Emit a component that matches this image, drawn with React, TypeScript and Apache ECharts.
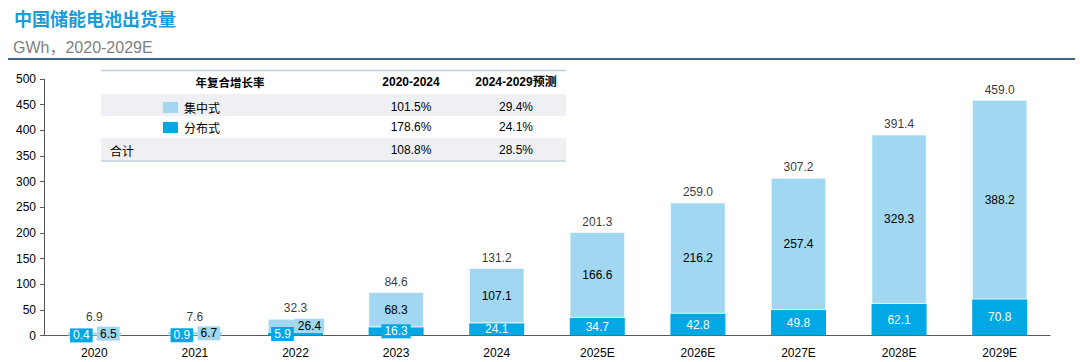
import React, { useEffect, useRef } from "react";
import * as echarts from "echarts";

const categories = ["2020", "2021", "2022", "2023", "2024", "2025E", "2026E", "2027E", "2028E", "2029E"];
const distributed = [0.4, 0.9, 5.9, 16.3, 24.1, 34.7, 42.8, 49.8, 62.1, 70.8];
const centralized = [6.5, 6.7, 26.4, 68.3, 107.1, 166.6, 216.2, 257.4, 329.3, 388.2];
const totals = [6.9, 7.6, 32.3, 84.6, 131.2, 201.3, 259.0, 307.2, 391.4, 459.0];
const yMin = 0;
const yMax = 500;
const yInterval = 50;

const titleText = "中国储能电池出货量";
const subtitleText = "GWh，2020-2029E";
const tableHeaders = ["年复合增长率", "2020-2024", "2024-2029预测"];
const seriesNames = ["集中式", "分布式"];
const cagrCentralized = ["101.5%", "29.4%"];
const cagrDistributed = ["178.6%", "24.1%"];
const totalLabel = "合计";
const cagrTotal = ["108.8%", "28.5%"];

const LIGHT = "#A1D7F1";
const DARK = "#00A8E4";
const FONT = '"Liberation Sans", Arial, "Noto Sans CJK SC", sans-serif';
const CJK = '"Noto Sans CJK SC", "Liberation Sans", sans-serif';

export default function App() {
  const ref = useRef<HTMLDivElement>(null);
  useEffect(() => {
    if (!ref.current) return;
    const chart = echarts.init(ref.current, undefined, { renderer: "svg" });
    const fmt = (p: any) => Number(p.value).toFixed(1);

    const darkData = distributed.map((v, i) => {
      if (i < 3) return { value: v, label: { backgroundColor: DARK, padding: [1, 3], offset: [-13, 0] } };
      if (i === 3) return { value: v, label: { backgroundColor: DARK, padding: [1, 3] } };
      return v;
    });
    const lightData = centralized.map((v, i) => {
      if (i < 3) return { value: v, label: { backgroundColor: LIGHT, padding: [1, 3], offset: [14, 0] } };
      return v;
    });
    const totalData = totals.map((v, i) => (i < 2 ? { value: v, label: { distance: 8 } } : v));

    const col1 = 230, col2 = 411, col3 = 516;
    const tx = (text: string, x: number, y: number, opts: any = {}) => ({
      type: "text",
      x,
      y,
      style: {
        text,
        fill: "#000",
        font: `${opts.bold ? "bold " : ""}${opts.size || 12}px ${opts.family || FONT}`,
        align: opts.align || "center",
        verticalAlign: "middle",
      },
      z: 10,
    });

    const graphic: any[] = [
      {
        type: "text",
        x: 14,
        y: 18,
        style: { text: titleText, fill: "#1B9BD8", font: `bold 18px ${CJK}`, verticalAlign: "middle" },
      },
      {
        type: "text",
        x: 13,
        y: 47,
        style: { text: subtitleText, fill: "#7F7F7F", font: `16px ${FONT}`, verticalAlign: "middle" },
      },
      { type: "line", shape: { x1: 8, y1: 59, x2: 1075, y2: 59 }, style: { stroke: "#41628A", lineWidth: 2 } },
      // table
      { type: "rect", shape: { x: 101, y: 94, width: 465, height: 22 }, style: { fill: "#EEF0F3" }, z: 5 },
      { type: "rect", shape: { x: 101, y: 138, width: 465, height: 22 }, style: { fill: "#EEF0F3" }, z: 5 },
      { type: "line", shape: { x1: 101, y1: 70.5, x2: 566, y2: 70.5 }, style: { stroke: "#C3CEDB", lineWidth: 1.5 }, z: 6 },
      { type: "line", shape: { x1: 101, y1: 161, x2: 566, y2: 161 }, style: { stroke: "#C3CEDB", lineWidth: 1.5 }, z: 6 },
      tx(tableHeaders[0], col1, 82, { bold: true, family: CJK, size: 11.5 }),
      tx(tableHeaders[1], col2, 82, { bold: true }),
      tx(tableHeaders[2], col3, 82, { bold: true }),
      { type: "rect", shape: { x: 163, y: 102, width: 15, height: 11 }, style: { fill: LIGHT }, z: 10 },
      tx(seriesNames[0], 184, 107, { align: "left", family: CJK }),
      tx(cagrCentralized[0], col2, 107),
      tx(cagrCentralized[1], col3, 107),
      { type: "rect", shape: { x: 163, y: 122, width: 15, height: 11 }, style: { fill: DARK }, z: 10 },
      tx(seriesNames[1], 184, 127, { align: "left", family: CJK }),
      tx(cagrDistributed[0], col2, 127),
      tx(cagrDistributed[1], col3, 127),
      tx(totalLabel, 110, 150, { align: "left", family: CJK }),
      tx(cagrTotal[0], col2, 150),
      tx(cagrTotal[1], col3, 150),
    ];

    chart.setOption({
      animation: false,
      backgroundColor: "#fff",
      textStyle: { fontFamily: FONT },
      grid: { left: 44, right: 30, top: 79, bottom: 26.5, containLabel: false, outerBoundsMode: "none" },
      xAxis: {
        type: "category",
        data: categories,
        axisLine: { lineStyle: { color: "#595959", width: 1 } },
        axisTick: { show: false },
        axisLabel: { color: "#000", fontSize: 12, margin: 11, fontFamily: FONT },
      },
      yAxis: {
        type: "value",
        min: yMin,
        max: yMax,
        interval: yInterval,
        splitLine: { show: false },
        axisLine: { show: true, lineStyle: { color: "#595959", width: 1 } },
        axisTick: { show: true, length: 4, inside: false, lineStyle: { color: "#595959" } },
        axisLabel: { color: "#000", fontSize: 12, margin: 8, fontFamily: FONT },
      },
      graphic,
      series: [
        {
          name: seriesNames[1],
          type: "bar",
          stack: "a",
          barWidth: 55,
          data: darkData,
          itemStyle: { color: DARK },
          label: {
            show: true,
            position: "inside",
            color: "#fff",
            fontSize: 12,
            fontFamily: FONT,
            formatter: fmt,
          },
          z: 2,
        },
        {
          name: seriesNames[0],
          type: "bar",
          stack: "a",
          barWidth: 55,
          data: lightData,
          itemStyle: { color: LIGHT, borderColor: "#ffffff", borderWidth: 0.6 },
          label: {
            show: true,
            position: "inside",
            color: "#000",
            fontSize: 12,
            fontFamily: FONT,
            formatter: fmt,
          },
          z: 2,
        },
        {
          name: "total",
          type: "scatter",
          data: totalData,
          symbolSize: 1,
          itemStyle: { color: "transparent" },
          label: {
            show: true,
            position: "top",
            distance: 4,
            color: "#000",
            fontSize: 12,
            fontFamily: FONT,
            formatter: fmt,
          },
          z: 5,
        },
      ],
    });
    return () => chart.dispose();
  }, []);
  return <div ref={ref} style={{ position: "fixed", left: 0, top: 0, width: 1080, height: 362 }} />;
}
